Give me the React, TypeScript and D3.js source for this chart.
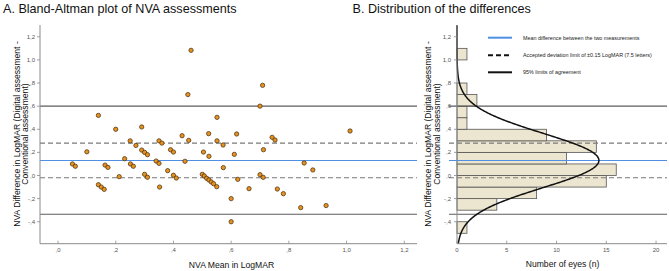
import React from "react";
import * as d3 from "d3";

// ---------- Data ----------
const meanX: number[] = [
  0.05, 0.06, 0.10, 0.14, 0.15, 0.16, 0.163, 0.173, 0.14, 0.20, 0.212, 0.231, 0.25, 0.251, 0.261, 0.27,
  0.29, 0.29, 0.30, 0.31, 0.30, 0.31, 0.34, 0.35, 0.35, 0.36, 0.352, 0.38, 0.39, 0.40, 0.40, 0.41,
  0.43, 0.44, 0.453, 0.461, 0.45, 0.504, 0.50, 0.507, 0.515, 0.523, 0.531, 0.539, 0.55, 0.522, 0.523, 0.551,
  0.551, 0.572, 0.573, 0.60, 0.60, 0.611, 0.619, 0.623, 0.662, 0.70, 0.711, 0.712, 0.742, 0.752, 0.76, 0.781,
  0.841, 0.853, 0.883, 0.929, 0.70, 0.709, 1.012,
];
const diffY: number[] = [
  0.10, 0.08, 0.205, -0.08, -0.10, -0.12, 0.09, 0.07, 0.52, 0.40, -0.01, 0.145, 0.30, 0.10, 0.08, 0.26,
  0.42, 0.22, 0.20, 0.18, 0.01, -0.015, 0.125, 0.105, 0.30, 0.28, -0.10, 0.042, 0.223, 0.203, 0.002, -0.022,
  0.344, 0.123, 0.304, 1.083, 0.70, 0.203, 0.01, -0.004, -0.024, -0.039, -0.056, -0.071, -0.097, 0.362, 0.166, 0.30,
  0.503, 0.264, 0.068, -0.20, -0.40, 0.183, 0.359, -0.033, -0.114, 0.007, -0.016, 0.223, 0.33, 0.307, -0.117, -0.157,
  -0.278, 0.108, 0.048, -0.26, 0.60, 0.78, 0.385,
];

const binStart: number[] = [-0.5, -0.4, -0.3, -0.2, -0.1, 0.0, 0.1, 0.2, 0.3, 0.4, 0.5, 0.6, 0.7, 0.8, 0.9, 1.0];
const binCount: number[] = [1, 0, 4, 8, 15, 16, 11, 14, 9, 1, 1, 2, 1, 0, 0, 1];
const binWidth = 0.1;

const meanDiff = 0.13;
const sdDiff = 0.235;
const nEyes = 84;
const acceptUpper = 0.28;
const acceptLower = -0.02;
const loaUpper = 0.6;
const loaLower = -0.335;

const xTickValues: number[] = [0, 0.2, 0.4, 0.6, 0.8, 1.0, 1.2];
const xTickLabels: string[] = [",0", ",2", ",4", ",6", ",8", "1,0", "1,2"];
const yTickValues: number[] = [-0.4, -0.2, 0, 0.2, 0.4, 0.6, 0.8, 1.0, 1.2];
const yTickLabels: string[] = ["-,4", "-,2", ",0", ",2", ",4", ",6", ",8", "1,0", "1,2"];
const cTickValues: number[] = [0, 5, 10, 15, 20];
const cTickLabels: string[] = ["0", "5", "10", "15", "20"];

const legendLabels: string[] = [
  "Mean difference between the two measurements",
  "Accepted deviation limit of \u00b10.15 LogMAR (7.5 letters)",
  "95% limits of agreement",
];

// ---------- Layout ----------
const W = 669;
const H = 271;
const FONT = "'Liberation Sans', Arial, sans-serif";
const AXIS = "#8a8a8a";
const LOA = "#5c5c5c";
const DASH = "#7a7a7a";
const BLUE = "#4f90e2";

const yScale = d3.scaleLinear().domain([-0.59, 1.302]).range([243.7, 25]);
const xScale = d3.scaleLinear().domain([-0.0624, 1.244]).range([40, 417]);
const cScale = d3.scaleLinear().domain([0, 21.1]).range([457, 667]);

function normalCount(v: number): number {
  const z = (v - meanDiff) / sdDiff;
  return (nEyes * binWidth * Math.exp(-0.5 * z * z)) / (sdDiff * Math.sqrt(2 * Math.PI));
}

export default function App() {
  const yA0 = xScale.range()[0];
  const yA1 = xScale.range()[1];
  const bottom = yScale.range()[0];
  const top = yScale.range()[1];
  const bx0 = cScale.range()[0];
  const bx1 = cScale.range()[1];

  const curveYs = d3.range(-0.59, 1.302, 0.005);
  const curveLine = d3
    .line<number>()
    .x((v) => cScale(normalCount(v)))
    .y((v) => yScale(v))
    .curve(d3.curveBasis);

  const hLines = (x0: number, x1: number) => (
    <g>
      <line x1={x0} x2={x1} y1={yScale(loaUpper)} y2={yScale(loaUpper)} stroke={LOA} strokeWidth={1.1} />
      <line x1={x0} x2={x1} y1={yScale(loaLower)} y2={yScale(loaLower)} stroke={LOA} strokeWidth={1.1} />
      <line x1={x0} x2={x1} y1={yScale(acceptUpper)} y2={yScale(acceptUpper)} stroke={DASH} strokeWidth={1.1} strokeDasharray="5,3" />
      <line x1={x0} x2={x1} y1={yScale(acceptLower)} y2={yScale(acceptLower)} stroke={DASH} strokeWidth={1.1} strokeDasharray="5,3" />
      <line x1={x0} x2={x1} y1={yScale(meanDiff)} y2={yScale(meanDiff)} stroke={BLUE} strokeWidth={1.1} />
    </g>
  );

  const yTicks = (axisX: number, labelRight: number) => (
    <g>
      {yTickValues.map((v, i) => (
        <g key={i}>
          <line x1={axisX - 3} x2={axisX} y1={yScale(v)} y2={yScale(v)} stroke={AXIS} strokeWidth={0.8} />
          <text x={labelRight} y={yScale(v) + 2} fontSize={6} fill="#555" textAnchor="end" fontFamily={FONT}>
            {yTickLabels[i]}
          </text>
        </g>
      ))}
    </g>
  );

  const yTitle = (x1: number, x2: number) => (
    <g fontFamily={FONT} fontSize={8.6} fill="#111" textAnchor="middle">
      <text transform={`translate(${x1},${134}) rotate(-90)`}>NVA Difference in LogMAR (Digital assessment -</text>
      <text transform={`translate(${x2},${134}) rotate(-90)`}>Conventional assessment)</text>
    </g>
  );

  return (
    <svg width={W} height={H} style={{ position: "absolute", left: 0, top: 0, background: "#fff" }}>
      {/* Titles */}
      <text x={3} y={12.5} fontSize={12.6} fontFamily={FONT} fill="#111">
        A. Bland-Altman plot of NVA assessments
      </text>
      <text x={352.5} y={12.5} fontSize={12.6} fontFamily={FONT} fill="#111">
        B. Distribution of the differences
      </text>

      {/* ---------- Panel A ---------- */}
      {hLines(yA0, yA1)}
      <line x1={yA0} x2={yA0} y1={top} y2={bottom} stroke={AXIS} strokeWidth={1} />
      <line x1={yA0} x2={yA1} y1={bottom} y2={bottom} stroke={AXIS} strokeWidth={1} />
      {yTicks(yA0, 35)}
      {xTickValues.map((v, i) => (
        <g key={i}>
          <line x1={xScale(v)} x2={xScale(v)} y1={bottom - 3} y2={bottom} stroke={AXIS} strokeWidth={0.8} />
          <text x={xScale(v)} y={bottom + 8} fontSize={6} fill="#555" textAnchor="middle" fontFamily={FONT}>
            {xTickLabels[i]}
          </text>
        </g>
      ))}
      {meanX.map((x, i) => (
        <circle key={i} cx={xScale(x)} cy={yScale(diffY[i])} r={2.15} fill="#e8921e" stroke="#4a3010" strokeWidth={0.75} />
      ))}
      {yTitle(19.5, 28)}
      <text x={231.5} y={268} fontSize={8.6} fontFamily={FONT} fill="#111" textAnchor="middle">
        NVA Mean in LogMAR
      </text>

      {/* ---------- Panel B ---------- */}
      {binStart.map((b, i) =>
        binCount[i] > 0 ? (
          <rect
            key={i}
            x={bx0}
            y={yScale(b + binWidth)}
            width={cScale(binCount[i]) - bx0}
            height={yScale(b) - yScale(b + binWidth)}
            fill="#ece5cf"
            stroke="#555"
            strokeWidth={0.8}
          />
        ) : null
      )}
      {hLines(449, 667)}
      <path d={curveLine(curveYs) || ""} fill="none" stroke="#111" strokeWidth={1.5} />
      <line x1={bx0} x2={bx0} y1={top} y2={bottom} stroke={AXIS} strokeWidth={1} />
      <line x1={bx0} x2={bx1} y1={bottom} y2={bottom} stroke={AXIS} strokeWidth={1} />
      {yTicks(bx0, 451)}
      {cTickValues.map((v, i) => (
        <g key={i}>
          <line x1={cScale(v)} x2={cScale(v)} y1={bottom - 3} y2={bottom} stroke={AXIS} strokeWidth={0.8} />
          <text x={cScale(v)} y={bottom + 8} fontSize={6} fill="#555" textAnchor="middle" fontFamily={FONT}>
            {cTickLabels[i]}
          </text>
        </g>
      ))}
      {yTitle(431, 439.5)}
      <text x={562.5} y={267} fontSize={8.6} fontFamily={FONT} fill="#111" textAnchor="middle">
        Number of eyes (n)
      </text>

      {/* Legend */}
      <g fontFamily={FONT} fontSize={5.4} fill="#222">
        <line x1={488} x2={512} y1={37.7} y2={37.7} stroke={BLUE} strokeWidth={2} />
        <text x={523} y={39.6}>{legendLabels[0]}</text>
        <line x1={488} x2={512} y1={55.3} y2={55.3} stroke="#111" strokeWidth={2} strokeDasharray="5,3" />
        <text x={523} y={57.2}>{legendLabels[1]}</text>
        <line x1={488} x2={512} y1={72.3} y2={72.3} stroke="#111" strokeWidth={2} />
        <text x={523} y={74.2}>{legendLabels[2]}</text>
      </g>
    </svg>
  );
}
